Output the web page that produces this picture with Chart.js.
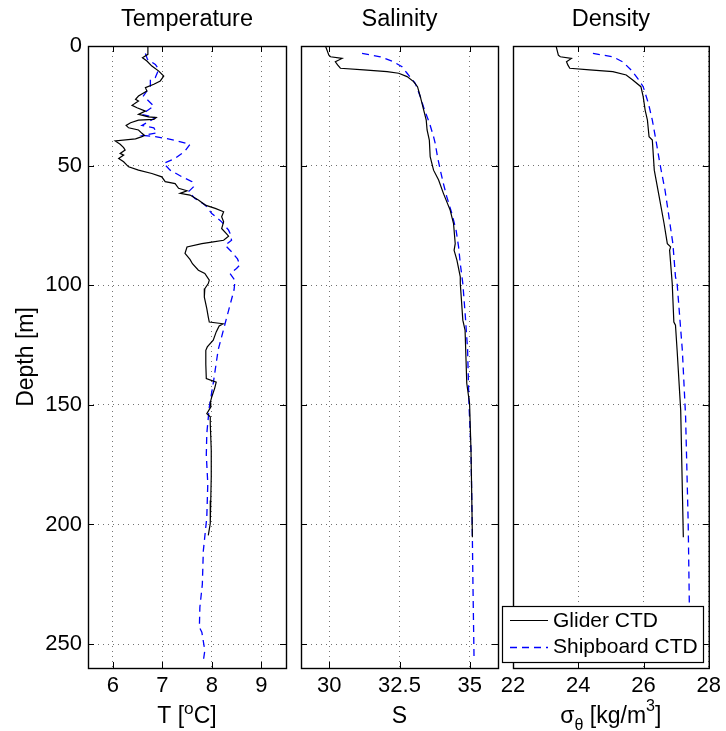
<!DOCTYPE html>
<html><head><meta charset="utf-8">
<script src="https://cdn.jsdelivr.net/npm/chart.js@4.4.1/dist/chart.umd.min.js"></script>
<style>
html,body{margin:0;padding:0;background:#fff;}
#wrap{position:relative;width:726px;height:731px;overflow:hidden;background:#fff;}
canvas{position:absolute;left:0;top:0;}
</style></head><body>
<div id="wrap">
<canvas id="c1" width="726" height="731"></canvas>
<canvas id="c2" width="726" height="731"></canvas>
<canvas id="c3" width="726" height="731"></canvas>
</div>
<script>
// ---------- tick labels ----------
const depthTicks = [0, 50, 100, 150, 200, 250];
const tempTicks = [6, 7, 8, 9];
const salTicks = [30, 32.5, 35];
const densTicks = [22, 24, 26, 28];
const panelTitles = ['Temperature', 'Salinity', 'Density'];
const seriesNames = ['Glider CTD', 'Shipboard CTD'];

// ---------- Temperature ----------
const tGliderDepth = [0,3.5,4.9,6.3,8.4,10.5,12.6,14.6,16.0,17.4,18.8,20.9,22.3,23.0,24.8,25.8,27.2,28.6,29.6,29.9,30.7,31.0,32.1,33.2,34.2,35.1,36.5,37.4,37.9,38.8,39.7,41.1,42.5,43.5,44.9,45.6,47.0,48.4,50.5,51.9,53.3,54.7,56.7,57.5,59.5,60.5,61.6,62.3,64.4,66.5,67.9,69.3,71.4,73.5,76.3,78.5,79.5,81.2,82.0,82.6,84.0,86.7,89.2,91.0,93.7,95.1,97.9,99.3,101.4,105,109.8,113.3,115.4,116.1,117,119.5,123,125.8,127.2,133,139,140.5,143,146.7,149,150.9,153.7,155,157.9,169,180,190,199.6,204.6];
const tGliderTemp  = [6.71,6.71,6.60,6.69,6.79,6.93,7.03,6.96,6.83,6.66,6.69,6.52,6.46,6.52,6.39,6.49,6.66,6.52,6.72,6.88,6.83,6.52,6.36,6.27,6.32,6.52,6.59,6.64,6.59,6.46,6.05,6.15,6.22,6.25,6.15,6.22,6.12,6.22,6.32,6.52,6.79,6.99,7.06,7.26,7.33,7.50,7.36,7.56,7.73,7.87,8.07,8.24,8.20,8.24,8.20,8.30,8.34,8.24,8.00,7.80,7.50,7.46,7.56,7.61,7.73,7.86,7.95,7.93,7.86,7.85,7.90,7.93,7.95,8.23,8.15,8.09,8.03,7.91,7.88,7.88,7.89,8.09,8.06,8.00,7.97,7.98,7.90,7.97,7.97,7.99,7.99,7.98,7.97,7.93];
const tShipDepth = [3.1,5.5,7.7,9.8,13.2,14.0,16.7,20.9,23.7,25.1,28.6,30.0,33.2,34.2,36.3,37.4,37.9,39.1,41.1,43.9,47.0,49.1,51.9,54.7,56.7,58.9,60.9,63.7,66.5,70.0,73.5,77.0,78.4,81.2,83.3,86.0,89.0,91.5,93.0,95.1,98.0,102,116,127,141,151,162,171,183,197,211,225,234.6,243,245,252.7,257];
const tShipTemp  = [6.66,6.70,6.86,6.93,6.86,6.76,6.76,6.62,6.76,6.83,6.59,6.86,6.59,6.83,6.89,6.62,6.86,7.19,7.56,7.46,7.26,7.03,7.16,7.40,7.60,7.63,7.53,7.66,7.87,8.00,8.20,8.34,8.37,8.40,8.27,8.40,8.52,8.57,8.50,8.37,8.47,8.45,8.27,8.13,8.03,7.95,7.90,7.89,7.92,7.90,7.83,7.81,7.76,7.75,7.80,7.86,7.83];

// ---------- Salinity ----------
const sGliderDepth = [0,3.8,4.5,5.2,6.6,7.9,9.3,10.0,10.7,11.4,12.8,14.9,17.0,21.2,26.8,31.0,35.1,39.3,46.3,51.9,56.0,61.6,68.6,74.2,82.6,85.4,89.5,96.5,99.3,114.6,118.8,141,149.5,169,183,205.3];
const sGliderSal  = [29.87,29.99,30.05,30.46,30.22,30.30,30.40,31.23,32.06,32.47,32.77,33.00,33.14,33.24,33.36,33.45,33.48,33.56,33.59,33.71,33.89,34.06,34.30,34.42,34.48,34.44,34.54,34.66,34.66,34.75,34.83,34.89,34.99,35.04,35.06,35.09];
const sShipDepth = [3.1,4.5,6.6,8.7,11.4,15.6,21.2,26.8,32.4,37.9,40.7,46.3,51.9,57.5,63.0,70.0,77.0,84.0,91.0,96.5,99.3,113,127,150,169,197,225,257];
const sShipSal  = [31.17,31.82,32.29,32.59,32.77,33.06,33.24,33.39,33.57,33.71,33.77,33.85,33.95,34.06,34.18,34.36,34.51,34.60,34.66,34.72,34.75,34.84,34.92,34.97,35.04,35.08,35.11,35.15];

// ---------- Density (sigma-theta) ----------
const dGliderDepth = [0,3.8,4.5,5.2,6.6,7.9,9.3,10.0,10.7,12.1,14.2,17.0,21.2,26.8,31.0,37.9,39.3,51.9,63.0,74.2,82.6,84.0,85.4,99.3,115.4,116.7,127.2,152.3,205.3];
const dGliderSig  = [23.32,23.39,23.45,23.79,23.64,23.68,23.74,24.35,25.06,25.47,25.67,25.92,25.99,26.05,26.12,26.17,26.27,26.33,26.48,26.63,26.73,26.83,26.80,26.88,26.93,26.98,27.03,27.14,27.22];
const dShipDepth = [3.1,4.5,6.6,10.0,13.5,17.0,24.0,31.0,39.3,49.0,60.3,71.4,82.6,96.5,99.3,127.2,155,199.7,238.8,259.7];
const dShipSig  = [24.45,25.06,25.36,25.62,25.82,25.99,26.15,26.27,26.38,26.50,26.66,26.78,26.90,26.98,27.03,27.19,27.29,27.37,27.41,27.42];

const FONT = '"Liberation Sans", Arial, Helvetica, sans-serif';
const W = 726, H = 731;

function pts(depth, vals) { return depth.map((d, i) => ({ x: vals[i], y: d })); }

function drawRich(ctx, segs, cx, cy, size) {
  let total = 0;
  segs.forEach(s => { ctx.font = (size * (s.s || 1)) + 'px ' + FONT; s.w = ctx.measureText(s.t).width; total += s.w; });
  let x = cx - total / 2;
  ctx.textAlign = 'left'; ctx.textBaseline = 'middle';
  segs.forEach(s => { ctx.font = (size * (s.s || 1)) + 'px ' + FONT; ctx.fillText(s.t, x, cy + (s.dy || 0)); x += s.w; });
}

const decor = {
  id: 'decor',
  afterDraw(chart, args, o) {
    const ctx = chart.ctx, a = chart.chartArea;
    const xs = chart.scales.x, ys = chart.scales.y;
    ctx.save();
    ctx.strokeStyle = '#000'; ctx.lineWidth = 1;
    ctx.beginPath();
    o.xTicks.forEach(v => {
      const px = Math.round(xs.getPixelForValue(v)) + 0.5;
      ctx.moveTo(px, a.bottom); ctx.lineTo(px, a.bottom - 6);
      ctx.moveTo(px, a.top); ctx.lineTo(px, a.top + 6);
    });
    depthTicks.forEach(v => {
      const py = Math.round(ys.getPixelForValue(v)) + 0.5;
      ctx.moveTo(a.left, py); ctx.lineTo(a.left + 6, py);
      ctx.moveTo(a.right, py); ctx.lineTo(a.right - 6, py);
    });
    ctx.stroke();
    ctx.lineWidth = 1.4;
    ctx.strokeRect(a.left + 0.5, a.top + 0.5, a.right - a.left, a.bottom - a.top);
    ctx.fillStyle = '#000';
    ctx.font = '23.5px ' + FONT; ctx.textAlign = 'center'; ctx.textBaseline = 'middle';
    ctx.fillText(o.title, (a.left + a.right) / 2, 20);
    drawRich(ctx, o.xlabel, (a.left + a.right) / 2, 717, 23);
    if (o.ylabel) {
      ctx.save();
      ctx.translate(27, (a.top + a.bottom) / 2);
      ctx.rotate(-Math.PI / 2);
      ctx.font = '23px ' + FONT; ctx.textAlign = 'center'; ctx.textBaseline = 'middle';
      ctx.fillText(o.ylabel, 0, 0);
      ctx.restore();
    }
    if (o.legend) {
      const lx = 502.5, ly = 606.5, lw = 201, lh = 56;
      ctx.fillStyle = '#fff'; ctx.fillRect(lx, ly, lw, lh);
      ctx.strokeStyle = '#000'; ctx.lineWidth = 1.2; ctx.strokeRect(lx, ly, lw, lh);
      ctx.lineWidth = 1.2; ctx.strokeStyle = '#000'; ctx.setLineDash([]);
      ctx.beginPath(); ctx.moveTo(510, 620.5); ctx.lineTo(548, 620.5); ctx.stroke();
      ctx.strokeStyle = '#0000ff'; ctx.lineWidth = 1.3; ctx.setLineDash([7, 5]);
      ctx.beginPath(); ctx.moveTo(510, 647.5); ctx.lineTo(548, 647.5); ctx.stroke();
      ctx.setLineDash([]);
      ctx.fillStyle = '#000'; ctx.font = '21px ' + FONT; ctx.textAlign = 'left'; ctx.textBaseline = 'middle';
      ctx.fillText(seriesNames[0], 553, 621);
      ctx.fillText(seriesNames[1], 553, 647);
    }
    ctx.restore();
  }
};

function makeChart(id, cfg) {
  const gridOpts = { color: 'rgba(0,0,0,0.55)', lineWidth: 1, drawTicks: false };
  return new Chart(document.getElementById(id), {
    type: 'scatter',
    data: {
      datasets: [
        { label: seriesNames[0], data: pts(cfg.gD, cfg.gV), showLine: true, borderColor: '#000', borderWidth: 1.2, pointRadius: 0, tension: 0, fill: false },
        { label: seriesNames[1], data: pts(cfg.sD, cfg.sV), showLine: true, borderColor: '#0000ff', borderWidth: 1.3, borderDash: [7, 5], pointRadius: 0, tension: 0, fill: false }
      ]
    },
    options: {
      responsive: false, animation: false, devicePixelRatio: 1,
      layout: { padding: { left: 0, right: W - cfg.right, top: 46, bottom: 0 } },
      plugins: {
        legend: { display: false }, tooltip: { enabled: false },
        decor: { title: cfg.title, xlabel: cfg.xlabel, ylabel: cfg.ylabel, legend: cfg.legend, xTicks: cfg.xTicks }
      },
      scales: {
        x: {
          type: 'linear', position: 'bottom', min: cfg.xmin, max: cfg.xmax,
          afterFit: s => { s.height = H - 668; },
          afterBuildTicks: s => { s.ticks = cfg.xTicks.map(v => ({ value: v })); },
          ticks: { font: { family: FONT, size: 22 }, color: '#000', padding: 5, autoSkip: false, maxRotation: 0, callback: v => String(v) },
          grid: gridOpts, border: { display: false, dash: [1, 4] }
        },
        y: {
          type: 'linear', position: 'left', reverse: true, min: 0, max: 260,
          afterFit: s => { s.width = cfg.left; },
          afterBuildTicks: s => { s.ticks = depthTicks.map(v => ({ value: v })); },
          ticks: { display: !!cfg.ylabel, font: { family: FONT, size: 22 }, color: '#000', padding: 6, callback: v => String(v) },
          grid: gridOpts, border: { display: false, dash: [1, 4] }
        }
      }
    },
    plugins: [decor]
  });
}

makeChart('c1', { left: 88, right: 286, xmin: 5.5, xmax: 9.5, xTicks: tempTicks, title: panelTitles[0],
  xlabel: [{ t: 'T [' }, { t: 'o', s: 0.75, dy: -8 }, { t: 'C]' }], ylabel: 'Depth [m]',
  gD: tGliderDepth, gV: tGliderTemp, sD: tShipDepth, sV: tShipTemp });
makeChart('c2', { left: 301, right: 498, xmin: 29, xmax: 36, xTicks: salTicks, title: panelTitles[1],
  xlabel: [{ t: 'S' }],
  gD: sGliderDepth, gV: sGliderSal, sD: sShipDepth, sV: sShipSal });
makeChart('c3', { left: 513, right: 710, xmin: 22, xmax: 28, xTicks: densTicks, title: panelTitles[2],
  xlabel: [{ t: 'σ' }, { t: 'θ', s: 0.7, dy: 9 }, { t: ' [kg/m' }, { t: '3', s: 0.7, dy: -10 }, { t: ']' }], legend: true,
  gD: dGliderDepth, gV: dGliderSig, sD: dShipDepth, sV: dShipSig });
</script>
</body></html>
